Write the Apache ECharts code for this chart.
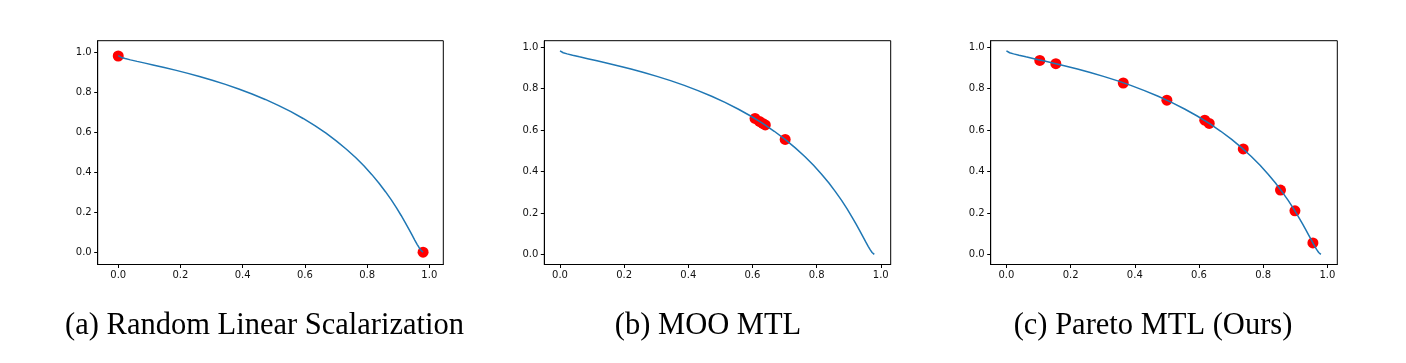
<!DOCTYPE html>
<html><head><meta charset="utf-8">
<script src="https://cdn.jsdelivr.net/npm/echarts@6/dist/echarts.min.js"></script>
<style>html,body{margin:0;padding:0;background:#fff}#c{width:1406px;height:363px}</style>
</head><body><div id="c"></div><script>
// Pareto front curve
const frontX = [0.0000,0.0006,0.0025,0.0100,0.0223,0.0392,0.0606,0.0861,0.1153,0.1479,0.1833,0.2212,0.2611,0.3023,0.3446,0.3874,0.4302,0.4727,0.5144,0.5551,0.5944,0.6321,0.6680,0.7018,0.7335,0.7631,0.7904,0.8155,0.8384,0.8591,0.8779,0.8946,0.9095,0.9227,0.9343,0.9444,0.9532,0.9608,0.9674,0.9730,0.9777,0.9798,0.9817];
const frontY = [0.9817,0.9798,0.9777,0.9730,0.9674,0.9608,0.9532,0.9444,0.9343,0.9227,0.9095,0.8946,0.8779,0.8591,0.8384,0.8155,0.7904,0.7631,0.7335,0.7018,0.6680,0.6321,0.5944,0.5551,0.5144,0.4727,0.4302,0.3874,0.3446,0.3023,0.2611,0.2212,0.1833,0.1479,0.1153,0.0861,0.0606,0.0392,0.0223,0.0100,0.0025,0.0006,0.0000];

// Solutions found by each method
const rlsX = [0.000, 0.980];
const rlsY = [0.980, 0.000];
const mooX = [0.608, 0.622, 0.632, 0.640, 0.702];
const mooY = [0.656, 0.642, 0.632, 0.625, 0.555];
const paretoX = [0.104, 0.154, 0.364, 0.500, 0.618, 0.632, 0.738, 0.854, 0.899, 0.955];
const paretoY = [0.936, 0.920, 0.827, 0.744, 0.648, 0.632, 0.509, 0.311, 0.211, 0.056];

const tickValues = [0, 0.2, 0.4, 0.6, 0.8, 1.0];
const captions = ['(a) Random Linear Scalarization', '(b) MOO MTL', '(c) Pareto MTL (Ours)'];

const pts = (xs, ys) => xs.map((x, i) => [x, ys[i]]);
const panels = [
  {x: rlsX, y: rlsY, left: 97.7, width: 345.6, xr: [-0.066, 1.045], yr: [-0.0615, 1.0565], cap: 264.5},
  {x: mooX, y: mooY, left: 544.3, width: 346.4, xr: [-0.049, 1.031], yr: [-0.048, 1.031], cap: 708},
  {x: paretoX, y: paretoY, left: 990.7, width: 346.6, xr: [-0.049, 1.031], yr: [-0.048, 1.031], cap: 1153}
];

function axis(range, i) {
  return {
    type: 'value', gridIndex: i, min: range[0], max: range[1],
    axisLine: {show: true, onZero: false, lineStyle: {color: '#000', width: 1}},
    axisTick: {show: true, inside: false, customValues: tickValues, length: 3.5, lineStyle: {color: '#000', width: 1}},
    axisLabel: {show: true, customValues: tickValues, formatter: v => v.toFixed(1), fontFamily: 'DejaVu Sans', fontSize: 10, color: '#111', margin: 6},
    splitLine: {show: false}
  };
}

const option = {
  animation: false,
  backgroundColor: '#fff',
  grid: panels.map(p => ({left: p.left, top: 40.7, width: p.width, height: 223.8, show: true, borderColor: '#000', borderWidth: 1, backgroundColor: 'transparent'})),
  xAxis: panels.map((p, i) => axis(p.xr, i)),
  yAxis: panels.map((p, i) => axis(p.yr, i)),
  series: panels.flatMap((p, i) => [
    {type: 'scatter', xAxisIndex: i, yAxisIndex: i, data: pts(p.x, p.y), symbolSize: 11, itemStyle: {color: '#ff0000', opacity: 1}, z: 2},
    {type: 'line', xAxisIndex: i, yAxisIndex: i, data: pts(frontX, frontY), showSymbol: false, symbol: 'none', lineStyle: {color: '#1f77b4', width: 1.5}, z: 3}
  ]),
  graphic: panels.map((p, i) => ({
    type: 'text', x: p.cap, y: 326,
    style: {text: captions[i], font: '30.5px "Liberation Serif"', fill: '#000', textAlign: 'center', textVerticalAlign: 'middle', align: 'center', verticalAlign: 'middle'}
  }))
};
const chart = echarts.init(document.getElementById('c'), null, {renderer: 'canvas'});
chart.setOption(option);
</script></body></html>
